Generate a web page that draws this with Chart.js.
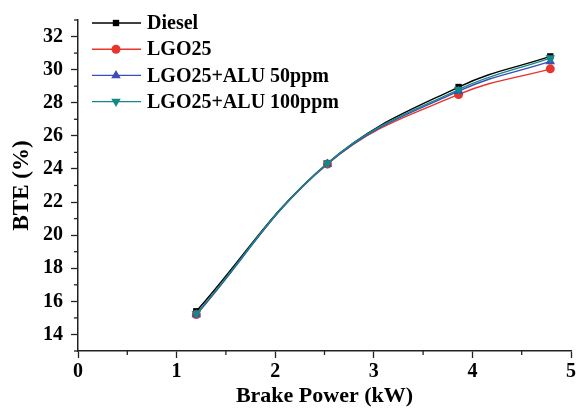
<!DOCTYPE html>
<html>
<head>
<meta charset="utf-8">
<script src="https://cdn.jsdelivr.net/npm/chart.js@4.4.1/dist/chart.umd.min.js"></script>
<style>
  html, body { margin: 0; padding: 0; background: #fff; }
  #wrap { width: 580px; height: 410px; }
</style>
</head>
<body>
<div id="wrap"><canvas id="bteChart" width="580" height="410"></canvas></div>
<script>
// brake power (kW)
const power = [1.2, 2.53, 3.86, 4.79];
// BTE (%) per fuel
const diesel = [15.4, 24.35, 28.95, 30.8];
const lgo25 = [15.2, 24.3, 28.5, 30.05];
const alu50 = [15.2, 24.3, 28.7, 30.5];
const alu100 = [15.25, 24.35, 28.8, 30.7];
const seriesNames = ['Diesel', 'LGO25', 'LGO25+ALU 50ppm', 'LGO25+ALU 100ppm'];
const xTicks = [0, 1, 2, 3, 4, 5];
const yTicks = [14, 16, 18, 20, 22, 24, 26, 28, 30, 32];

const FONT = "'Liberation Serif', 'Times New Roman', serif";

function pts(ys) {
    return power.map((x, i) => ({ x: x, y: ys[i] }));
}

const styles = [
    { color: '#000000', point: 'rect', radius: 4.5, rot: 0 },
    { color: '#e8342a', point: 'circle', radius: 4.5, rot: 0 },
    { color: '#3a4dbb', point: 'triangle', radius: 5.5, rot: 0 },
    { color: '#128a83', point: 'triangle', radius: 5.5, rot: 180 }
];

const datasets = [diesel, lgo25, alu50, alu100].map((ys, i) => ({
    label: seriesNames[i],
    data: pts(ys),
    borderColor: styles[i].color,
    backgroundColor: styles[i].color,
    borderWidth: 1.4,
    pointStyle: styles[i].point,
    pointRadius: styles[i].radius,
    pointRotation: styles[i].rot,
    pointBorderWidth: 0,
    tension: 0.4,
    order: 4 - i
}));

// small ticks between the labelled ones
const minorTicks = {
    id: 'minorTicks',
    afterDraw(chart) {
        const ctx = chart.ctx;
        const xs = chart.scales.x, ys = chart.scales.y;
        const bottom = chart.chartArea.bottom, left = chart.chartArea.left;
        ctx.save();
        ctx.strokeStyle = '#222';
        ctx.lineWidth = 1.3;
        for (let v = 0.5; v < 5; v += 1) {
            const px = xs.getPixelForValue(v);
            ctx.beginPath();
            ctx.moveTo(px, bottom);
            ctx.lineTo(px, bottom + 4);
            ctx.stroke();
        }
        for (let v = 13; v <= 33; v += 2) {
            const py = ys.getPixelForValue(v);
            ctx.beginPath();
            ctx.moveTo(left, py);
            ctx.lineTo(left - 4, py);
            ctx.stroke();
        }
        ctx.restore();
    }
};

// legend inside the plot, top left
const innerLegend = {
    id: 'innerLegend',
    afterDraw(chart) {
        const ctx = chart.ctx;
        ctx.save();
        ctx.font = 'bold 20px ' + FONT;
        ctx.textBaseline = 'middle';
        chart.data.datasets.forEach((ds, i) => {
            const y = 23 + i * 26.2;
            ctx.strokeStyle = ds.borderColor;
            ctx.lineWidth = 1.4;
            ctx.beginPath();
            ctx.moveTo(92, y);
            ctx.lineTo(141, y);
            ctx.stroke();
            ctx.fillStyle = ds.backgroundColor;
            Chart.helpers.drawPoint(ctx, {
                pointStyle: ds.pointStyle,
                radius: ds.pointRadius,
                rotation: ds.pointRotation,
                borderWidth: 0
            }, 116, y);
            ctx.fillStyle = '#000';
            ctx.fillText(ds.label, 147, y + 1);
        });
        ctx.restore();
    }
};

new Chart(document.getElementById('bteChart'), {
    type: 'line',
    data: { datasets: datasets },
    plugins: [minorTicks, innerLegend],
    options: {
        responsive: false,
        animation: false,
        layout: { padding: { left: 0, right: 9, top: 11, bottom: 0 } },
        plugins: {
            legend: { display: false },
            tooltip: { enabled: false }
        },
        scales: {
            x: {
                type: 'linear',
                min: 0,
                max: 5,
                afterFit: s => { s.height = 59; },
                afterBuildTicks: s => { s.ticks = xTicks.map(v => ({ value: v })); },
                grid: { drawOnChartArea: false, tickLength: 7, tickColor: '#222', tickWidth: 1.3 },
                border: { color: '#222', width: 1.5 },
                ticks: {
                    color: '#000',
                    padding: 2,
                    maxRotation: 0,
                    font: { family: FONT, size: 20, weight: 'bold' }
                },
                title: {
                    display: true,
                    text: 'Brake Power (kW)',
                    color: '#000',
                    padding: { top: 0, bottom: 0 },
                    font: { family: FONT, size: 22, weight: 'bold' }
                }
            },
            y: {
                type: 'linear',
                min: 13,
                max: 33,
                afterFit: s => { s.width = 78; },
                afterBuildTicks: s => { s.ticks = yTicks.map(v => ({ value: v })); },
                grid: { drawOnChartArea: false, tickLength: 7, tickColor: '#222', tickWidth: 1.3 },
                border: { color: '#222', width: 1.5 },
                ticks: {
                    color: '#000',
                    padding: 8,
                    font: { family: FONT, size: 20, weight: 'bold' }
                },
                title: {
                    display: true,
                    text: 'BTE (%)',
                    color: '#000',
                    padding: { top: 8, bottom: 4 },
                    font: { family: FONT, size: 23, weight: 'bold' }
                }
            }
        }
    }
});
</script>
</body>
</html>
